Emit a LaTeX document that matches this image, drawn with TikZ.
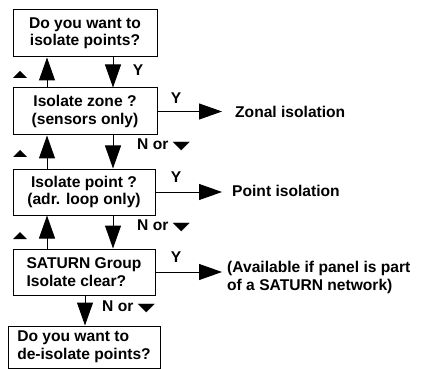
\documentclass[tikz,border=0pt]{standalone}
\usepackage{fontspec}
\usepackage{graphicx}
\setmainfont{Liberation Sans}
\newfontfamily\dv{DejaVu Sans}
\usetikzlibrary{arrows.meta}
\newcommand{\dnmark}{\raisebox{0.3pt}{\scalebox{1.45}[0.72]{\dv ▼}}}
\begin{document}
\begin{tikzpicture}[x=1pt,y=-1pt,
  txt/.style={font=\fontsize{15.6}{17.5}\selectfont\bfseries, inner sep=0pt},
  box/.style={txt, draw, line width=1pt, align=center},
  arr/.style={line width=1pt, -{Triangle[length=23pt,width=16pt]}},
  upmark/.style={fill=black}]
\useasboundingbox (0,0) rectangle (421,369);
% boxes
\node[box, minimum width=144pt, minimum height=47pt] (b1) at (85,33.5) {Do you want to\\isolate points?};
\node[box, minimum width=144pt, minimum height=47pt] (b2) at (85,111.5) {Isolate zone ?\\(sensors only)};
\node[box, minimum width=142pt, minimum height=46pt] (b3) at (84,192) {Isolate point ?\\(adr. loop only)};
\node[box, minimum width=142pt, minimum height=46pt, align=left] (b4) at (84,272) {SATURN Group\\Isolate clear?};
\node[box, minimum width=152pt, minimum height=42pt, align=left] (b5) at (84,347) {Do you want to\\de-isolate points?};
% helper x positions
\coordinate (xd) at (113,0);
\coordinate (xu) at (47,0);
\coordinate (xm) at (85,0);
\coordinate (xr) at (222,0);
% down arrows
\draw[arr] (b1.south -| xd) -- (b2.north -| xd);
\draw[arr] (b2.south -| xd) -- (b3.north -| xd);
\draw[arr] (b3.south -| xd) -- (b4.north -| xd);
\draw[arr] (b4.south -| xm) -- (b5.north -| xm);
% up arrows
\draw[arr] (b2.north -| xu) -- (b1.south -| xu);
\draw[arr] (b3.north -| xu) -- (b2.south -| xu);
\draw[arr] (b4.north -| xu) -- (b3.south -| xu);
% up marks
\fill[upmark] (13,78) -- (27,78) -- (20,71) -- cycle;
\fill[upmark] (13,157) -- (27,157) -- (20,150) -- cycle;
\fill[upmark] (13,239) -- (27,239) -- (20,232) -- cycle;
% labels on down arrows
\node[txt] (ly1) at (138,70) {Y};
\node[txt, anchor=west] (ln1) at (137,145) {N or \dnmark};
\node[txt, anchor=west] (ln2) at (137,226) {N or \dnmark};
\node[txt, anchor=west] (ln3) at (102,307) {N or \dnmark};
% right arrows
\draw[arr] (b2.east) -- (b2.east -| xr);
\draw[arr] (b3.east) -- (b3.east -| xr);
\draw[arr] (b4.east) -- (b4.east -| xr);
\node[txt] (ly2) at (176,98) {Y};
\node[txt] (ly3) at (176,177) {Y};
\node[txt] (ly4) at (176,257) {Y};
\node[txt, anchor=west] (r2) at (235,112) {Zonal isolation};
\node[txt, anchor=west] (r3) at (232,191) {Point isolation};
\node[txt, anchor=north west, align=left] (r4) at (227,261) {(Available if panel is part\\of a SATURN network)};
\end{tikzpicture}
\end{document}
